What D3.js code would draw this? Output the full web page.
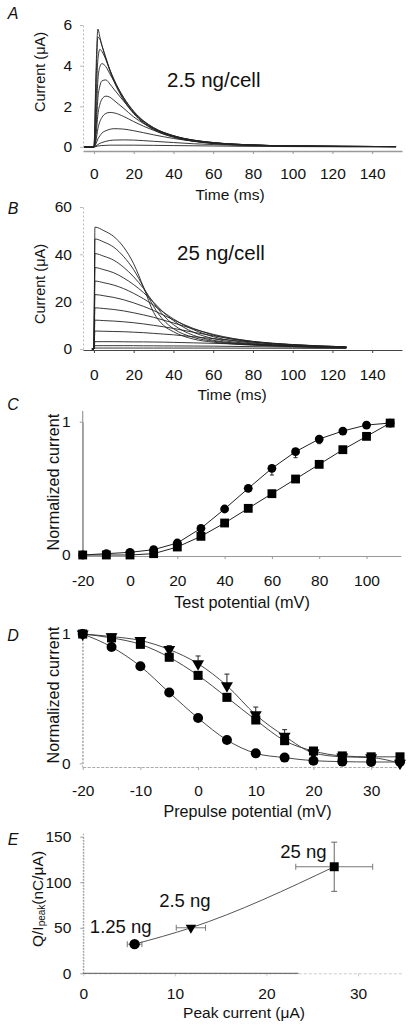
<!DOCTYPE html>
<html><head><meta charset="utf-8">
<script src="https://cdnjs.cloudflare.com/ajax/libs/d3/7.8.5/d3.min.js"></script>
<style>
html,body{margin:0;padding:0;background:#fff;}
svg{display:block;}
</style></head><body>
<svg id="chart" width="412" height="1029"></svg>
<script>
// ---------- Panel A: 2.5 ng/cell current traces ----------
const timesA = [-5, 0, 1, 2, 3, 4, 6, 8, 10, 15, 20, 30, 40, 50, 60, 80, 100, 125, 152];
const tracesA = [
  [0, 0, 3.6, 5.8, 5.4, 5.0, 4.35, 3.75, 3.25, 2.3, 1.64, 0.85, 0.48, 0.28, 0.17, 0.08, 0.05, 0.03, 0.02],
  [0, 0, 3.0, 5.4, 5.3, 5.0, 4.4, 3.8, 3.3, 2.35, 1.68, 0.88, 0.5, 0.29, 0.18, 0.08, 0.05, 0.03, 0.02],
  [0, 0, 2.0, 4.3, 4.8, 4.7, 4.3, 3.8, 3.35, 2.42, 1.74, 0.92, 0.52, 0.3, 0.19, 0.09, 0.05, 0.03, 0.02],
  [0, 0, 1.2, 3.3, 3.95, 4.1, 3.95, 3.6, 3.25, 2.42, 1.76, 0.95, 0.55, 0.32, 0.2, 0.09, 0.05, 0.03, 0.02],
  [0, 0, 0.8, 2.4, 3.0, 3.25, 3.3, 3.1, 2.85, 2.25, 1.68, 0.95, 0.56, 0.33, 0.21, 0.1, 0.05, 0.03, 0.02],
  [0, 0, 0.5, 1.6, 2.1, 2.35, 2.5, 2.45, 2.3, 1.9, 1.48, 0.9, 0.55, 0.34, 0.22, 0.1, 0.05, 0.03, 0.02],
  [0, 0, 0.3, 0.9, 1.25, 1.45, 1.65, 1.7, 1.68, 1.5, 1.25, 0.82, 0.52, 0.34, 0.22, 0.1, 0.05, 0.03, 0.02],
  [0, 0, 0.15, 0.4, 0.55, 0.68, 0.8, 0.87, 0.9, 0.88, 0.8, 0.6, 0.42, 0.29, 0.2, 0.1, 0.05, 0.03, 0.02],
  [0, 0, 0.05, 0.12, 0.18, 0.22, 0.28, 0.32, 0.34, 0.35, 0.34, 0.28, 0.22, 0.16, 0.12, 0.07, 0.04, 0.02, 0.01],
  [0, 0, 0.02, 0.05, 0.06, 0.07, 0.08, 0.09, 0.09, 0.09, 0.09, 0.08, 0.07, 0.06, 0.05, 0.03, 0.02, 0.01, 0.01]
];
const ticksTimeX = [0, 20, 40, 60, 80, 100, 120, 140];
const ticksAY = [0, 2, 4, 6];

// ---------- Panel B: 25 ng/cell current traces ----------
const timesB = [-1, 0, 0.5, 5, 10, 15, 20, 25, 30, 35, 40, 50, 60, 80, 100, 127];
const tracesB = [
  [0, 0, 51.5, 50, 47.5, 43, 36, 26, 15.5, 10, 7.3, 4.2, 2.9, 1.6, 1.0, 0.5],
  [0, 0, 46.5, 45.2, 43, 39, 33.5, 26, 18, 12.2, 8.6, 4.9, 3.3, 1.8, 1.1, 0.6],
  [0, 0, 40.3, 39.2, 37.5, 34.5, 30.5, 25.5, 19.5, 14.2, 10.3, 5.8, 3.7, 2.0, 1.2, 0.6],
  [0, 0, 34.4, 33.5, 32.2, 30, 27.2, 23.8, 19.8, 15.5, 12, 7.1, 4.4, 2.2, 1.3, 0.7],
  [0, 0, 28.7, 28, 27, 25.5, 23.5, 21.2, 18.5, 15.5, 12.7, 8.2, 5.2, 2.5, 1.4, 0.7],
  [0, 0, 23, 22.5, 21.8, 20.8, 19.5, 18, 16.3, 14.3, 12.3, 8.7, 5.9, 2.9, 1.6, 0.8],
  [0, 0, 17.4, 17.1, 16.7, 16.1, 15.3, 14.4, 13.4, 12.2, 11, 8.5, 6.2, 3.2, 1.8, 0.9],
  [0, 0, 12.2, 12, 11.8, 11.5, 11.1, 10.6, 10, 9.4, 8.7, 7.1, 5.6, 3.2, 1.9, 0.9],
  [0, 0, 7.6, 7.5, 7.4, 7.3, 7.1, 6.9, 6.6, 6.3, 6, 5.2, 4.4, 2.9, 1.8, 0.9],
  [0, 0, 3.1, 3.1, 3.1, 3.05, 3.0, 3.0, 2.95, 2.9, 2.8, 2.6, 2.4, 1.9, 1.4, 0.8],
  [0, 0, 1.4, 1.4, 1.4, 1.4, 1.4, 1.35, 1.35, 1.3, 1.3, 1.25, 1.2, 1.0, 0.8, 0.5],
  [0, 0, 0.4, 0.4, 0.4, 0.4, 0.4, 0.4, 0.4, 0.4, 0.4, 0.4, 0.4, 0.35, 0.3, 0.2]
];
const ticksBY = [0, 20, 40, 60];

// ---------- Panel C: activation ----------
const potC = [-20, -10, 0, 10, 20, 30, 40, 50, 60, 70, 80, 90, 100, 110];
const circC = [0, 0.01, 0.02, 0.04, 0.09, 0.2, 0.345, 0.5, 0.65, 0.775, 0.87, 0.93, 0.975, 0.99];
const circCErr = [0, 0, 0, 0, 0, 0, 0, 0, 0.05, 0.045, 0.035, 0, 0, 0];
const sqC = [0, 0, 0, 0.01, 0.06, 0.14, 0.24, 0.35, 0.46, 0.57, 0.68, 0.79, 0.89, 0.99];
const ticksCX = [-20, 0, 20, 40, 60, 80, 100];
const ticksNormY = [0, 1];

// ---------- Panel D: inactivation ----------
const preD = [-20, -15, -10, -5, 0, 5, 10, 15, 20, 25, 30, 35];
const circD = [1.0, 0.9, 0.75, 0.547, 0.35, 0.18, 0.077, 0.044, 0.02, 0.013, 0.01, 0.01];
const sqD = [1.0, 0.97, 0.92, 0.82, 0.68, 0.51, 0.335, 0.175, 0.095, 0.057, 0.05, 0.05];
const triD = [1.0, 0.98, 0.95, 0.88, 0.77, 0.60, 0.375, 0.21, 0.08, 0.05, 0.044, 0.0];
const triDErr = [0, 0, 0, 0.03, 0.06, 0.09, 0.06, 0.05, 0, 0, 0, 0];
const ticksDX = [-20, -10, 0, 10, 20, 30];

// ---------- Panel E: Q/Ipeak vs peak current ----------
const doseE = ["1.25 ng", "2.5 ng", "25 ng"];
const peakE = [5.6, 11.75, 27.4];
const peakErrE = [0.8, 1.6, 4.2];
const qE = [32, 50, 117];
const qErrE = [0, 0, 27];
const ticksEX = [0, 10, 20, 30];
const ticksEY = [0, 50, 100, 150];

// =====================================================
const FONT = "'Liberation Sans', Arial, Helvetica, sans-serif";
const TICK = 15.5;
const svg = d3.select("#chart");
svg.append("rect").attr("width", 412).attr("height", 1029).attr("fill", "#fff");

function xAxis(scale, y, ticks, o) {
  const g = svg.append("g").attr("transform", `translate(0,${y})`)
    .call(d3.axisBottom(scale).tickValues(ticks).tickSize(3).tickSizeOuter(0)
      .tickPadding(o.pad).tickFormat(d => String(d)));
  g.attr("font-family", FONT).attr("font-size", TICK);
  g.select(".domain").attr("stroke", o.color).attr("stroke-width", o.w)
    .attr("stroke-dasharray", o.dash || null);
  g.selectAll(".tick line").attr("stroke", o.color);
  g.selectAll(".tick text").attr("fill", "#111");
  return g;
}
function yAxis(scale, x, ticks, o) {
  const g = svg.append("g").attr("transform", `translate(${x},0)`)
    .call(d3.axisLeft(scale).tickValues(ticks).tickSize(3).tickSizeOuter(0)
      .tickPadding(o.pad).tickFormat(d => String(d)));
  g.attr("font-family", FONT).attr("font-size", TICK);
  g.select(".domain").attr("stroke", o.color).attr("stroke-width", o.w)
    .attr("stroke-dasharray", o.dash || null);
  g.selectAll(".tick line").attr("stroke", o.color);
  g.selectAll(".tick text").attr("fill", "#111");
  return g;
}
function text(x, y, s, size, anchor, extra) {
  const t = svg.append("text").attr("x", x).attr("y", y)
    .attr("font-family", FONT).attr("font-size", size)
    .attr("text-anchor", anchor || "start").attr("fill", "#111").text(s);
  if (extra) extra(t);
  return t;
}
function vtext(cx, cy, s, size) {
  return svg.append("text").attr("transform", `translate(${cx},${cy}) rotate(-90)`)
    .attr("font-family", FONT).attr("font-size", size)
    .attr("text-anchor", "middle").attr("dominant-baseline", "central")
    .attr("fill", "#111").text(s);
}
function panelLetter(x, y, s) {
  text(x, y, s, 16, "middle", t => t.attr("font-style", "italic"));
}

// ---------------- Panel A ----------------
const xA = d3.scaleLinear().domain([-5.5, 155]).range([83, 402]);
const yA = d3.scaleLinear().domain([0, 6]).range([147, 25]);
yAxis(yA, 83, ticksAY, {pad: 8, color: "#bbb", w: 1, dash: "2,2"});
xAxis(xA, 151, ticksTimeX, {pad: 14, color: "#999", w: 1.6});
const lineA = d3.line().x((d, i) => xA(timesA[i])).y(d => yA(d)).curve(d3.curveMonotoneX);
svg.append("g").selectAll("path").data(tracesA).join("path")
  .attr("d", lineA).attr("fill", "none").attr("stroke", "#222").attr("stroke-width", 0.9);
panelLetter(13, 19, "A");
vtext(40, 72, "Current (\u03bcA)", 14.5);
text(167, 87, "2.5 ng/cell", 20.5);
text(230, 200, "Time (ms)", 15.5, "middle");

// ---------------- Panel B ----------------
const xB = d3.scaleLinear().domain([-5.5, 155]).range([83, 402]);
const yB = d3.scaleLinear().domain([0, 60]).range([349, 207]);
yAxis(yB, 83, ticksBY, {pad: 8, color: "#bbb", w: 1, dash: "2,2"});
xAxis(xB, 350, ticksTimeX, {pad: 16, color: "#444", w: 1});
const lineB = d3.line().x((d, i) => xB(timesB[i])).y(d => yB(d)).curve(d3.curveMonotoneX);
svg.append("g").selectAll("path").data(tracesB).join("path")
  .attr("d", lineB).attr("fill", "none").attr("stroke", "#222").attr("stroke-width", 0.9);
panelLetter(13, 214, "B");
vtext(40, 284, "Current (\u03bcA)", 14.5);
text(177, 260, "25 ng/cell", 20.5);
text(232, 400, "Time (ms)", 15.5, "middle");

// ---------------- Panel C ----------------
const xC = d3.scaleLinear().domain([-20, 114.5]).range([82.7, 400.8]);
const yC = d3.scaleLinear().domain([0, 1]).range([555, 421.7]);
yAxis(yC, 82.7, ticksNormY, {pad: 9, color: "#999", w: 1.2});
svg.append("line").attr("x1", xC(-20)).attr("x2", xC(-20)).attr("y1", yC(0)).attr("y2", yC(1.08))
  .attr("stroke", "#999").attr("stroke-width", 1.2);
xAxis(xC, 556, ticksCX, {pad: 16, color: "#999", w: 1.2});
const lineC = vals => d3.line().x((d, i) => xC(potC[i])).y(d => yC(d))(vals);
svg.append("path").attr("d", lineC(circC)).attr("fill", "none").attr("stroke", "#222").attr("stroke-width", 1);
svg.append("path").attr("d", lineC(sqC)).attr("fill", "none").attr("stroke", "#222").attr("stroke-width", 1);
circC.forEach((v, i) => {
  if (!circCErr[i]) return;
  const x = xC(potC[i]);
  svg.append("line").attr("x1", x).attr("x2", x).attr("y1", yC(v)).attr("y2", yC(v - circCErr[i])).attr("stroke", "#222");
  svg.append("line").attr("x1", x - 2).attr("x2", x + 2).attr("y1", yC(v - circCErr[i])).attr("y2", yC(v - circCErr[i])).attr("stroke", "#222");
});
svg.append("g").selectAll("path").data(sqC).join("path")
  .attr("transform", (d, i) => `translate(${xC(potC[i])},${yC(d)})`)
  .attr("d", d3.symbol(d3.symbolSquare, 78)).attr("fill", "#000");
svg.append("g").selectAll("circle").data(circC).join("circle")
  .attr("cx", (d, i) => xC(potC[i])).attr("cy", d => yC(d)).attr("r", 4.4).attr("fill", "#000");
panelLetter(13, 410, "C");
vtext(53, 482, "Normalized current", 16.2);
text(242, 608, "Test potential (mV)", 16.3, "middle");

// ---------------- Panel D ----------------
const xD = d3.scaleLinear().domain([-20, 35]).range([82.7, 400]);
const yD = d3.scaleLinear().domain([0, 1]).range([763.3, 634]);
yAxis(yD, 82.7, ticksNormY, {pad: 9, color: "#aaa", w: 1, dash: "2,1.5"});
svg.append("line").attr("x1", xD(-20)).attr("x2", xD(-20)).attr("y1", yD(0) + 4).attr("y2", yD(1.05))
  .attr("stroke", "#aaa").attr("stroke-dasharray", "2,1.5");
xAxis(xD, 767, ticksDX, {pad: 15, color: "#aaa", w: 1.2, dash: "3,1.5"});
const lineD = d3.line().x((d, i) => xD(preD[i])).y(d => yD(d)).curve(d3.curveMonotoneX);
[circD, sqD, triD].forEach(s => svg.append("path").attr("d", lineD(s))
  .attr("fill", "none").attr("stroke", "#333").attr("stroke-width", 0.9));
triD.forEach((v, i) => {
  if (!triDErr[i]) return;
  const x = xD(preD[i]);
  svg.append("line").attr("x1", x).attr("x2", x).attr("y1", yD(v)).attr("y2", yD(v + triDErr[i])).attr("stroke", "#222");
  svg.append("line").attr("x1", x - 2.5).attr("x2", x + 2.5).attr("y1", yD(v + triDErr[i])).attr("y2", yD(v + triDErr[i])).attr("stroke", "#222");
});
svg.append("g").selectAll("circle").data(circD).join("circle")
  .attr("cx", (d, i) => xD(preD[i])).attr("cy", d => yD(d)).attr("r", 5).attr("fill", "#000");
svg.append("g").selectAll("path").data(sqD).join("path")
  .attr("transform", (d, i) => `translate(${xD(preD[i])},${yD(d)})`)
  .attr("d", d3.symbol(d3.symbolSquare, 82)).attr("fill", "#000");
svg.append("g").selectAll("path").data(triD).join("path")
  .attr("transform", (d, i) => `translate(${xD(preD[i])},${yD(d)}) rotate(180)`)
  .attr("d", d3.symbol(d3.symbolTriangle, 62)).attr("fill", "#000");
panelLetter(13, 641, "D");
vtext(53, 695, "Normalized current", 16.2);
text(247.5, 817, "Prepulse potential (mV)", 16.1, "middle");

// ---------------- Panel E ----------------
const xE = d3.scaleLinear().domain([0, 34.8]).range([83.3, 402]);
const yE = d3.scaleLinear().domain([0, 150]).range([973.3, 836.7]);
yAxis(yE, 83.3, ticksEY, {pad: 9, color: "#999", w: 1, dash: "1.5,1.5"});
svg.append("line").attr("x1", xE(0)).attr("x2", xE(0)).attr("y1", yE(0)).attr("y2", yE(154))
  .attr("stroke", "#999").attr("stroke-dasharray", "1.5,1.5");
xAxis(xE, 973.3, ticksEX, {pad: 12, color: "#ccc", w: 1, dash: "3,2"});
svg.append("line").attr("x1", xE(0)).attr("x2", xE(23.5)).attr("y1", 973.3).attr("y2", 973.3)
  .attr("stroke", "#555").attr("stroke-width", 1);
const lineE = d3.line().x(d => xE(d[0])).y(d => yE(d[1])).curve(d3.curveMonotoneX);
svg.append("path").attr("d", lineE(peakE.map((p, i) => [p, qE[i]])))
  .attr("fill", "none").attr("stroke", "#555").attr("stroke-width", 1);
peakE.forEach((p, i) => {
  const cx = xE(p), cy = yE(qE[i]);
  const xl = xE(p - peakErrE[i]), xr = xE(p + peakErrE[i]);
  svg.append("line").attr("x1", xl).attr("x2", xr).attr("y1", cy).attr("y2", cy).attr("stroke", "#777");
  [xl, xr].forEach(x => svg.append("line").attr("x1", x).attr("x2", x).attr("y1", cy - 3).attr("y2", cy + 3).attr("stroke", "#777"));
  if (qErrE[i]) {
    const yt = yE(qE[i] + qErrE[i]), yb = yE(qE[i] - qErrE[i]);
    svg.append("line").attr("x1", cx).attr("x2", cx).attr("y1", yt).attr("y2", yb).attr("stroke", "#666");
    [yt, yb].forEach(y => svg.append("line").attr("x1", cx - 3).attr("x2", cx + 3).attr("y1", y).attr("y2", y).attr("stroke", "#666"));
  }
});
const symE = [d3.symbolCircle, d3.symbolTriangle, d3.symbolSquare];
const sizeE = [85, 48, 80];
svg.append("g").selectAll("path").data(peakE).join("path")
  .attr("transform", (d, i) => `translate(${xE(d)},${yE(qE[i])})${i === 1 ? " rotate(180)" : ""}`)
  .attr("d", (d, i) => d3.symbol(symE[i], sizeE[i])()).attr("fill", "#000");
const labOff = [[17, -11, "end"], [-6, -21, "middle"], [-7.6, -8.5, "end"]];
doseE.forEach((s, i) => text(xE(peakE[i]) + labOff[i][0], yE(qE[i]) + labOff[i][1], s, 18.5, labOff[i][2]));
panelLetter(13, 845, "E");
const yl = svg.append("text").attr("transform", "translate(37,899) rotate(-90)")
  .attr("font-family", FONT).attr("font-size", 15.5).attr("text-anchor", "middle")
  .attr("dominant-baseline", "central").attr("fill", "#111");
yl.append("tspan").text("Q/I");
yl.append("tspan").attr("font-size", 10).attr("dy", 4).text("peak");
yl.append("tspan").attr("dy", -4).text("(nC/\u03bcA)");
text(244, 1018, "Peak current (\u03bcA)", 15.5, "middle");
</script>
</body></html>
